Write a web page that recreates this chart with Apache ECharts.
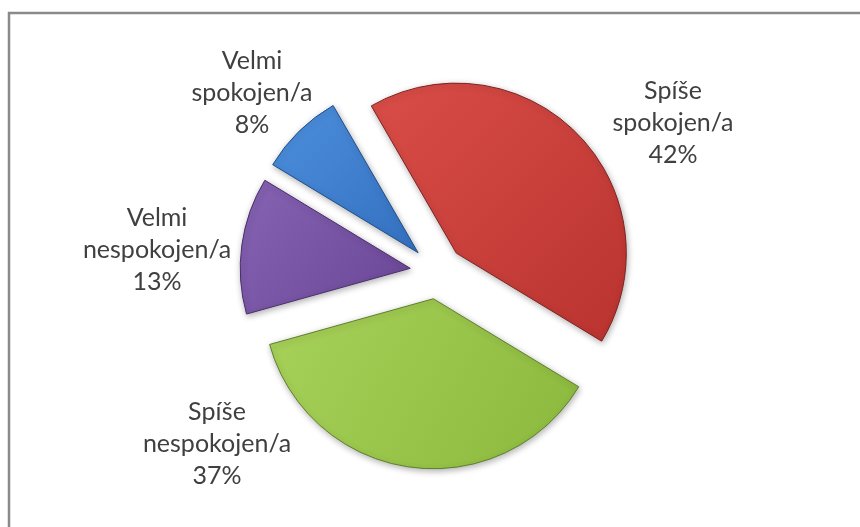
<!DOCTYPE html>
<html>
	<head>
		<meta charset="utf-8">
		<title></title>
		<script src="https://cdn.jsdelivr.net/npm/echarts@6/dist/echarts.min.js"></script>
		<style>
			html, body {
				margin: 0;
				padding: 0;
				background: #ffffff;
			}
			#main {
				width: 860px;
				height: 527px;
			}
		</style>
	</head>
	<body>
		<div id="main"></div>
	</body>
	<script>
		// spokojenost - podil odpovedi (%)
		var categories = ["Spíše spokojen/a", "Spíše nespokojen/a", "Velmi nespokojen/a", "Velmi spokojen/a"];
		var values = [42, 37, 13, 8];
		var colors = [
			["#da4d48", "#b9332f", "#7e2220"],
			["#a8d25a", "#8ab83c", "#5f7f28"],
			["#8663b3", "#6a4696", "#4a2f6b"],
			["#4d8fdc", "#3370c0", "#1f4f8c"]
		];
		// where each label block sits (centre of the text), px
		var labelSpots = [[673, 123], [217, 444], [157, 250], [252, 93]];

		function sliceColor(c) {
			return new echarts.graphic.LinearGradient(0, 0, 1, 1, [
				{ offset: 0, color: c[0] },
				{ offset: 1, color: c[1] }
			]);
		}

		function buildData() {
			let out = [];
			for (let i = 0; i < categories.length; i++) {
				out.push({
					name: categories[i],
					value: values[i],
					selected: true,
					itemStyle: {
						color: sliceColor(colors[i]),
						borderColor: colors[i][2],
						borderWidth: 1
					}
				});
			}
			return out;
		}

		function labelData() {
			let out = [];
			for (let i = 0; i < categories.length; i++) {
				out.push({ name: categories[i], value: values[i] });
			}
			return out;
		}

		let option = {
			backgroundColor: "#ffffff",
			animation: false,
			graphic: [{
				type: "rect",
				shape: { x: 9, y: 13, width: 900, height: 600 },
				style: { fill: "none", stroke: "#8a8a8a", lineWidth: 2.5 },
				silent: true
			}],
			series: [{
				// exploded slices
				type: "pie",
				center: [437, 272],
				radius: 170,
				startAngle: 120,
				clockwise: true,
				selectedMode: "multiple",
				selectedOffset: 27,
				itemStyle: {
					shadowBlur: 6,
					shadowColor: "rgba(0,0,0,0.3)",
					shadowOffsetX: 1,
					shadowOffsetY: 2
				},
				label: { show: false },
				labelLine: { show: false },
				emphasis: { disabled: true },
				data: buildData()
			}, {
				// same pie, invisible, only carries the labels
				type: "pie",
				center: [437, 272],
				radius: 170,
				startAngle: 120,
				clockwise: true,
				silent: true,
				selectedMode: false,
				avoidLabelOverlap: false,
				itemStyle: { color: "rgba(0,0,0,0)" },
				label: {
					show: true,
					position: "outside",
					fontFamily: "Lato",
					fontSize: 25,
					lineHeight: 32,
					color: "#404040",
					formatter: function (p) {
						let name = p.name.replace(" ", "\n");
						return name + "\n" + Math.round(p.percent) + "%";
					}
				},
				labelLine: { show: false },
				labelLayout: function (p) {
					let spot = labelSpots[p.dataIndex];
					return {
						x: spot[0],
						y: spot[1],
						align: "center",
						verticalAlign: "middle"
					};
				},
				emphasis: { disabled: true },
				data: labelData()
			}]
		};

		let echart = echarts.init(document.getElementById("main"));
		echart.setOption(option);
	</script>
</html>
